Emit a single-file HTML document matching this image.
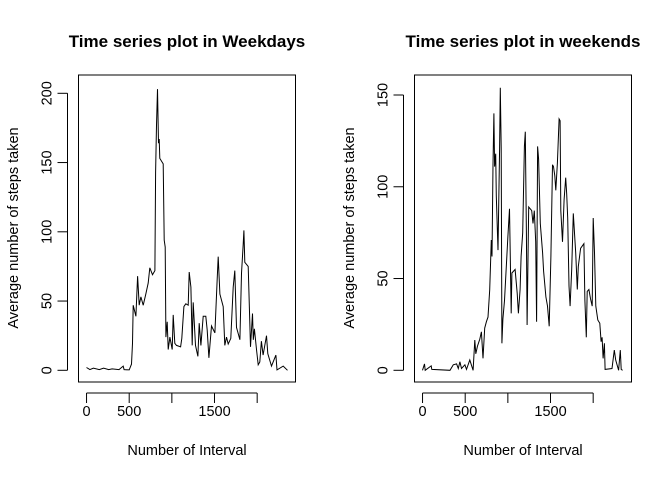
<!DOCTYPE html>
<html><head><meta charset="utf-8"><style>
html,body{margin:0;padding:0;background:#fff;}
svg{display:block;font-family:"Liberation Sans",Arial,sans-serif;}
</style></head><body>
<svg id="chart" width="672" height="480" viewBox="0 0 672 480" xmlns="http://www.w3.org/2000/svg"></svg>
<script>
// Weekday series
const wdIntervals = [0,40,80,150,200,260,300,380,430,440,500,527,539,547,578,598,617,637,664,695,723,742,773,801,809,820,832,844,852,859,898,910,922,930,945,957,977,1004,1016,1035,1055,1102,1117,1141,1164,1191,1203,1223,1238,1250,1277,1305,1320,1340,1367,1398,1414,1434,1465,1504,1531,1543,1563,1602,1621,1641,1660,1691,1719,1738,1758,1797,1816,1836,1844,1855,1895,1922,1945,1955,1967,1992,2012,2031,2050,2070,2109,2125,2168,2219,2232,2305,2355];
const wdSteps = [2,0.5,1.5,0.5,1.5,0.5,1,0.5,3,0.5,0.3,4.5,19.5,47,39,68,47,53,47,55,63,74,69,72,143,177,203,164,167,153,149,94,89,24,35,15,24,15,40,19.5,18,17,23,46,48,47,71,60,18,49,18,10,34,18,39,39,29,9,32,27,66,82,55,46,18,24,19,23,60,72,31,22,70,91,101,78,75,17,41,22,30,15,4,6,21,11,25,12,3,11,0.3,3,0];
// Weekend series
const weIntervals = [0,23,31,101,109,322,360,399,419,438,457,496,515,554,593,612,624,643,671,690,709,729,748,767,787,806,814,826,837,845,857,864,884,903,911,922,930,942,961,1000,1019,1039,1047,1085,1109,1124,1143,1155,1174,1194,1205,1217,1225,1244,1279,1295,1310,1326,1337,1349,1360,1380,1407,1419,1446,1465,1484,1504,1523,1535,1550,1562,1581,1601,1612,1620,1640,1659,1678,1690,1702,1717,1729,1748,1767,1795,1814,1826,1853,1891,1903,1919,1930,1950,1969,1988,2000,2016,2031,2054,2078,2093,2105,2116,2132,2140,2221,2248,2264,2298,2318,2329,2345];
const weSteps = [0,3.5,0,2.4,0.5,0,3,3.5,1,4.7,1,3,0.5,5.6,0,16.5,9,13,17,21,6.5,23,26.5,29,43.8,71,62,112,140,111,118,95,65.5,121,154,121,14.7,28,38,73,88,31,53,55,42,31,44,62,75,122,130,75,24.7,89,87,80,87,70,26.5,122,115,80,64,54,40,35,24,62,112,111,106,98,113,137,136,87,70,93,105,96,83,46,35,55,85.5,64,44,56.5,66.5,69,38,18,43,44,39,35,83,64,35,27.4,25.6,15.6,18,6.5,14.7,0.5,1,11,5.6,0,11,0.5,0];
const xTicks = [0,500,1000,1500,2000];
const xTickLabels = ["0","500","","1500",""];
const wdYTicks = [0,50,100,150,200];
const weYTicks = [0,50,100,150];

const NS = "http://www.w3.org/2000/svg";
const svg = document.getElementById("chart");
function mk(tag, attrs, parent){
  const e = document.createElementNS(NS, tag);
  for (const k in attrs) e.setAttribute(k, attrs[k]);
  (parent||svg).appendChild(e);
  return e;
}
function panel(cfg){
  const g = mk("g", {});
  
  
  const L=cfg.left, R=cfg.right, T=75, B=382;
  const xmin=-94.2, xmax=2449.2;
  const X = v => L + (v - xmin)/(xmax - xmin)*(R-L);
  const Y = v => cfg.y0 - v*cfg.ppu;
  const box = mk("rect", {x:L,y:T,width:R-L,height:B-T,fill:"none",stroke:"#000","stroke-width":1}, g);
  
  
  const xa = mk("line", {x1:X(xTicks[0]),x2:X(xTicks[xTicks.length-1]),y1:393,y2:393,stroke:"#000"}, g);
  
  
  xTicks.forEach((t,i)=>{
    mk("line",{x1:X(t),x2:X(t),y1:393,y2:403,stroke:"#000"},g);
    if (xTickLabels[i]) {
      const tx = mk("text",{x:X(t),y:416,"text-anchor":"middle","font-size":"14.5px",fill:"#000"},g);
      tx.textContent = xTickLabels[i];
      
      
    }
  });
  const ya = mk("line", {x1:L-11,x2:L-11,y1:Y(cfg.yTicks[0]),y2:Y(cfg.yTicks[cfg.yTicks.length-1]),stroke:"#000"}, g);
  
  
  cfg.yTicks.forEach(t=>{
    mk("line",{x1:L-21,x2:L-11,y1:Y(t),y2:Y(t),stroke:"#000"},g);
    const tx = mk("text",{x:0,y:0,transform:`translate(${L-21-6},${Y(t)}) rotate(-90)`,"text-anchor":"middle","font-size":"14.5px",fill:"#000"},g);
    tx.textContent = String(t);
    
    
  });
  const pts = cfg.xs.map((x,i)=>X(x).toFixed(1)+","+Y(cfg.ys[i]).toFixed(1)).join(" ");
  const line = mk("polyline",{points:pts,fill:"none",stroke:"#000","stroke-width":1},g);
  
  
  const ti = mk("text",{x:(L+R)/2,y:47,"text-anchor":"middle","font-size":"17px","font-weight":"bold",fill:"#000"},g);
  ti.textContent = cfg.title;
  
  
  const xl = mk("text",{x:(L+R)/2,y:455,"text-anchor":"middle","font-size":"14.5px",fill:"#000"},g);
  xl.textContent = "Number of Interval";
  
  
  const yl = mk("text",{x:0,y:0,transform:`translate(${cfg.ylx},228) rotate(-90)`,"text-anchor":"middle","font-size":"14.5px",fill:"#000"},g);
  yl.textContent = "Average number of steps taken";
  
  
}
panel({name:"weekday-panel",left:78.5,right:295.5,y0:370.3,ppu:(370.3-93.3)/200,xs:wdIntervals,ys:wdSteps,yTicks:wdYTicks,title:"Time series plot in Weekdays",ylx:18});
panel({name:"weekend-panel",left:414.5,right:631.5,y0:370.3,ppu:(370.3-95)/150,xs:weIntervals,ys:weSteps,yTicks:weYTicks,title:"Time series plot in weekends",ylx:354});
</script>
</body></html>
